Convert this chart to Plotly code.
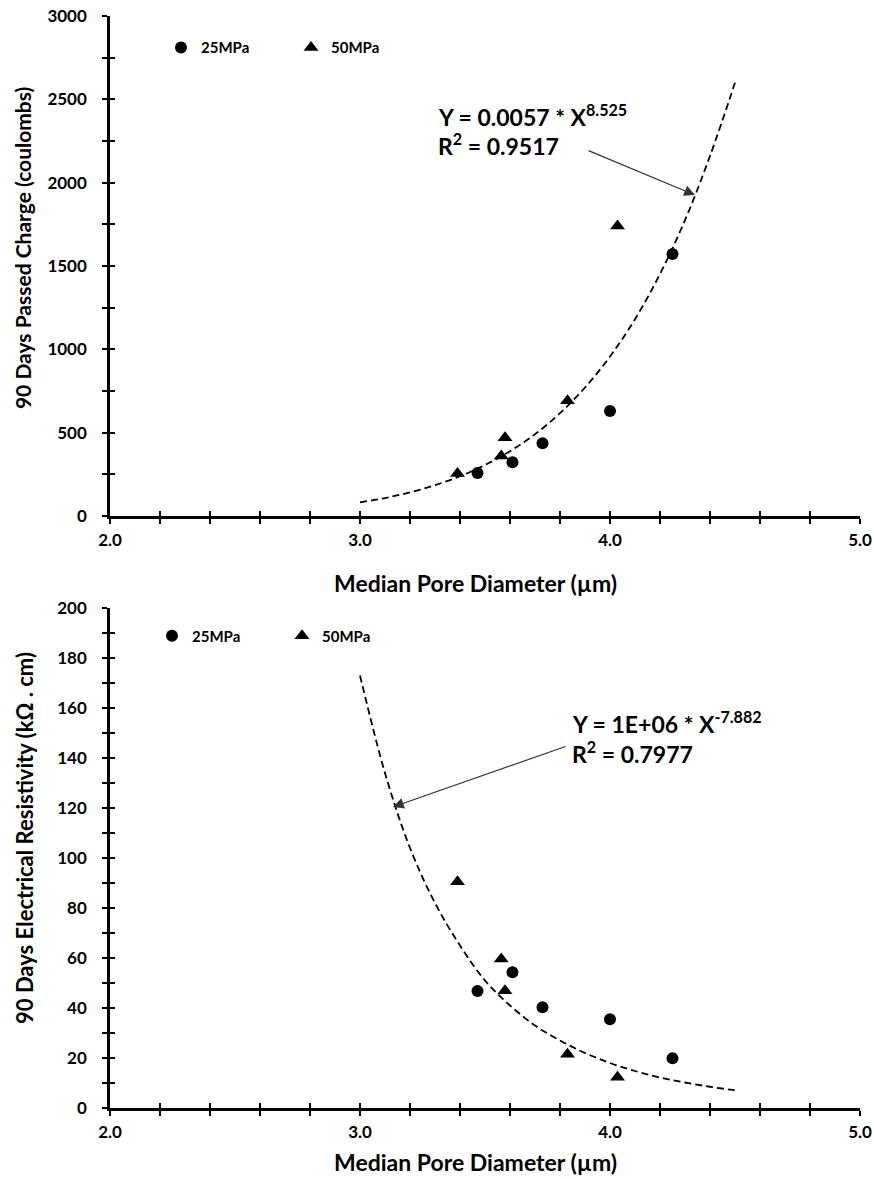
import plotly.graph_objects as go

# ---------------- data ----------------
x25 = [3.47, 3.61, 3.73, 4.00, 4.25]
x50 = [3.39, 3.565, 3.58, 3.83, 4.03]

charge25 = [258, 322, 436, 630, 1572]
charge50 = [255, 360, 470, 692, 1740]

resist25 = [46.8, 54.3, 40.3, 35.5, 19.9]
resist50 = [90.5, 59.6, 46.9, 21.5, 12.3]

# dashed trend lines
trend_x = [3.0, 3.1, 3.2, 3.3, 3.4, 3.5, 3.6, 3.7, 3.8, 3.9, 4.0, 4.1, 4.2, 4.3, 4.4, 4.5]
trend_charge = [82, 108, 142, 185, 239, 306, 389, 491, 617, 771, 957, 1181, 1452, 1775, 2160, 2600]
trend_resist = [173, 134, 104, 82, 65, 51, 41, 33, 27, 22, 18, 14.8, 12.2, 10.2, 8.5, 7.1]

x_ticks = [round(2.0 + 0.2 * i, 1) for i in range(16)]
x_ticktext = ["2.0" if v == 2.0 else "3.0" if v == 3.0 else "4.0" if v == 4.0 else "5.0" if v == 5.0 else "" for v in x_ticks]
top_ticks = list(range(0, 3001, 250))
top_ticktext = [str(v) if v % 500 == 0 else "" for v in top_ticks]
bot_ticks = list(range(0, 201, 10))
bot_ticktext = [str(v) if v % 20 == 0 else "" for v in bot_ticks]

x_title = "Median Pore Diameter (µm)"
y_title_top = "90 Days Passed Charge (coulombs)"
y_title_bot = "90 Days Electrical Resistivity (kΩ . cm)"

FONT = "Lato"
BLACK = "#000000"

fig = go.Figure()

# top panel
fig.add_trace(go.Scatter(x=x25, y=charge25, mode="markers", name="25MPa",
                         marker=dict(symbol="circle", size=12, color=BLACK),
                         xaxis="x", yaxis="y", legend="legend"))
fig.add_trace(go.Scatter(x=x50, y=charge50, mode="markers", name="50MPa",
                         marker=dict(symbol="triangle-up", size=13, color=BLACK),
                         xaxis="x", yaxis="y", legend="legend"))
fig.add_trace(go.Scatter(x=trend_x, y=trend_charge, mode="lines", showlegend=False,
                         line=dict(color=BLACK, width=1.8, dash="7px,4px", shape="spline"),
                         xaxis="x", yaxis="y"))

# bottom panel
fig.add_trace(go.Scatter(x=x25, y=resist25, mode="markers", name="25MPa",
                         marker=dict(symbol="circle", size=12, color=BLACK),
                         xaxis="x2", yaxis="y2", legend="legend2"))
fig.add_trace(go.Scatter(x=x50, y=resist50, mode="markers", name="50MPa",
                         marker=dict(symbol="triangle-up", size=13, color=BLACK),
                         xaxis="x2", yaxis="y2", legend="legend2"))
fig.add_trace(go.Scatter(x=trend_x, y=trend_resist, mode="lines", showlegend=False,
                         line=dict(color=BLACK, width=1.8, dash="7px,4px", shape="spline"),
                         xaxis="x2", yaxis="y2"))

# empty traces to carry the overlay axes (inner half of crossing ticks)
fig.add_trace(go.Scatter(x=[], y=[], xaxis="x3", yaxis="y3", showlegend=False, hoverinfo="skip"))
fig.add_trace(go.Scatter(x=[], y=[], xaxis="x4", yaxis="y4", showlegend=False, hoverinfo="skip"))

TOP_DOM = [0.5421, 1.0]
BOT_DOM = [0.0, 0.4579]

tickfont = dict(family=FONT, size=17, color=BLACK, weight="bold")

def xax(anchor, inner=False, overlay=None):
    d = dict(range=[2.0, 5.0], domain=[0, 1], anchor=anchor, tickmode="array",
             tickvals=x_ticks, ticktext=x_ticktext, showgrid=False, zeroline=False,
             ticklen=5, tickwidth=2, tickcolor=BLACK, tickfont=tickfont, automargin=False)
    if inner:
        d.update(ticks="inside", showticklabels=False, showline=False, overlaying=overlay)
    else:
        d.update(ticks="outside", showline=True, linecolor=BLACK, linewidth=2.5,
                 ticklabelstandoff=2)
    return d

def yax(anchor, rng, tv, tt, domain, inner=False, overlay=None):
    d = dict(range=rng, domain=domain, anchor=anchor, tickmode="array",
             tickvals=tv, ticktext=tt, showgrid=False, zeroline=False,
             ticklen=5, tickwidth=2, tickcolor=BLACK, tickfont=tickfont, automargin=False)
    if inner:
        d.update(ticks="inside", showticklabels=False, showline=False, overlaying=overlay)
    else:
        d.update(ticks="outside", showline=True, linecolor=BLACK, linewidth=2.5,
                 ticklabelstandoff=12)
    return d

fig.update_layout(
    width=874, height=1179,
    margin=dict(l=110, r=14, t=16, b=71),
    plot_bgcolor="white", paper_bgcolor="white",
    font=dict(family=FONT, color=BLACK),
    xaxis=xax("y"),
    yaxis=yax("x", [0, 3000], top_ticks, top_ticktext, TOP_DOM),
    xaxis2=xax("y2"),
    yaxis2=yax("x2", [0, 200], bot_ticks, bot_ticktext, BOT_DOM),
    xaxis3=xax("y3", inner=True, overlay="x"),
    yaxis3=yax("x3", [0, 3000], top_ticks, top_ticktext, TOP_DOM, inner=True, overlay="y"),
    xaxis4=xax("y4", inner=True, overlay="x2"),
    yaxis4=yax("x4", [0, 200], bot_ticks, bot_ticktext, BOT_DOM, inner=True, overlay="y2"),
    legend=dict(orientation="h", x=0.068, y=0.971, xanchor="left", yanchor="middle",
                font=dict(family=FONT, size=15, color=BLACK, weight="bold"),
                entrywidth=85, entrywidthmode="pixels", bgcolor="rgba(0,0,0,0)",
                itemwidth=30, tracegroupgap=0),
    legend2=dict(orientation="h", x=0.056, y=0.4323, xanchor="left", yanchor="middle",
                 font=dict(family=FONT, size=15, color=BLACK, weight="bold"),
                 entrywidth=85, entrywidthmode="pixels", bgcolor="rgba(0,0,0,0)",
                 itemwidth=30, tracegroupgap=0),
    showlegend=True,
)

annfont = dict(family=FONT, size=23, color=BLACK, weight="bold")
xtfont = dict(family=FONT, size=23, color=BLACK, weight="bold")
ann = [
    # axis titles
    dict(x=0.4867, y=0.4808, xref="paper", yref="paper", text=x_title, showarrow=False,
         xanchor="center", yanchor="middle", font=xtfont),
    dict(x=0.4867, y=-0.0495, xref="paper", yref="paper", text=x_title, showarrow=False,
         xanchor="center", yanchor="middle", font=xtfont),
    dict(x=-0.1173, y=0.7875, xref="paper", yref="paper", text=y_title_top, showarrow=False,
         textangle=-90, xanchor="center", yanchor="middle",
         font=dict(family=FONT, size=21, color=BLACK, weight="bold")),
    dict(x=-0.1133, y=0.2473, xref="paper", yref="paper", text=y_title_bot, showarrow=False,
         textangle=-90, xanchor="center", yanchor="middle",
         font=dict(family=FONT, size=22, color=BLACK, weight="bold")),
    # top panel equation
    dict(x=3.304, y=2403, xref="x", yref="y", text="Y = 0.0057 * X<sup>8.525</sup>",
         showarrow=False, xanchor="left", yanchor="middle", font=annfont),
    dict(x=3.304, y=2229, xref="x", yref="y", text="R<sup>2</sup> = 0.9517",
         showarrow=False, xanchor="left", yanchor="middle", font=annfont),
    dict(x=4.34, y=1926, xref="x", yref="y", ax=3.908, ay=2196, axref="x", ayref="y",
         text="", showarrow=True, arrowhead=2, arrowsize=1.8, arrowwidth=1.2,
         arrowcolor="#333333", standoff=0),
    # bottom panel equation
    dict(x=3.84, y=154, xref="x2", yref="y2", text="Y = 1E+06 * X<sup>-7.882</sup>",
         showarrow=False, xanchor="left", yanchor="middle", font=annfont),
    dict(x=3.84, y=142, xref="x2", yref="y2", text="R<sup>2</sup> = 0.7977",
         showarrow=False, xanchor="left", yanchor="middle", font=annfont),
    dict(x=3.132, y=120.4, xref="x2", yref="y2", ax=3.828, ay=144.8, axref="x2", ayref="y2",
         text="", showarrow=True, arrowhead=2, arrowsize=1.8, arrowwidth=1.2,
         arrowcolor="#333333", standoff=0),
]
fig.update_layout(annotations=ann)

fig.write_html("out.html")
